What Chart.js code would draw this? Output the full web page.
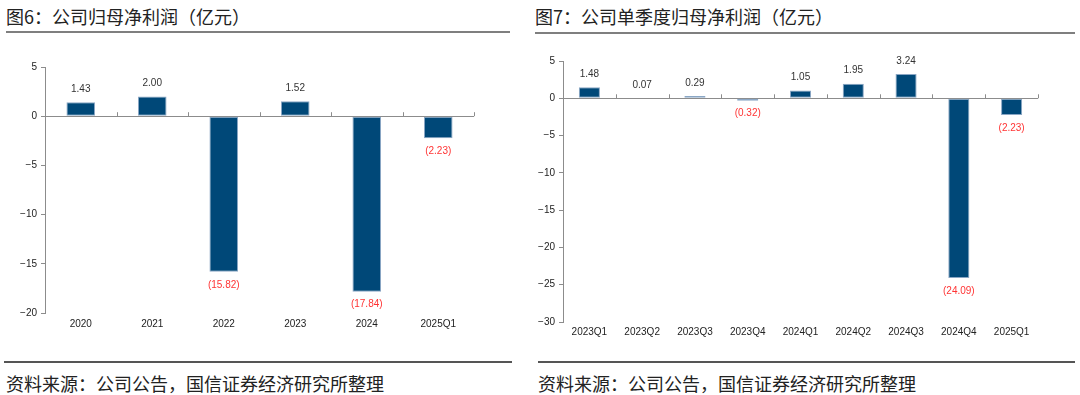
<!DOCTYPE html>
<html>
<head>
<meta charset="utf-8">
<script src="https://cdn.jsdelivr.net/npm/chart.js@4.4.0/dist/chart.umd.min.js"></script>
<style>
    body{margin:0;background:#fff;width:1080px;height:395px;position:relative;overflow:hidden;font-family:"Noto Sans CJK SC","Noto Sans",sans-serif;}
    .title{position:absolute;top:3px;font-size:18px;color:#222;white-space:nowrap;}
    .rule{position:absolute;height:2px;background:#7f7f7f;}
    .foot{position:absolute;top:370px;font-size:18px;color:#222;white-space:nowrap;}
    .box{position:absolute;}
</style>
</head>
<body>

<div class="title" style="left:6px;">图6：公司归母净利润（亿元）</div>
<div class="rule" style="left:6px;width:504px;top:31px;"></div>
<div class="title" style="left:535px;">图7：公司单季度归母净利润（亿元）</div>
<div class="rule" style="left:535px;width:540px;top:32px;"></div>

<div class="box" style="left:0;top:40px;width:500px;height:300px;"><canvas id="annualChart"></canvas></div>
<div class="box" style="left:520px;top:40px;width:560px;height:305px;"><canvas id="quarterChart"></canvas></div>

<div class="rule" style="left:4px;width:508px;top:361px;background:#555;"></div>
<div class="rule" style="left:538px;width:537px;top:361px;background:#555;"></div>
<div class="foot" style="left:6px;">资料来源：公司公告，国信证券经济研究所整理</div>
<div class="foot" style="left:538px;">资料来源：公司公告，国信证券经济研究所整理</div>

<script>
// ===== DATA =====
const annualLabels = ["2020","2021","2022","2023","2024","2025Q1"];
const annualValues = [1.43, 2.00, -15.82, 1.52, -17.84, -2.23];
const annualTicks = [5, 0, -5, -10, -15, -20];

const quarterLabels = ["2023Q1","2023Q2","2023Q3","2023Q4","2024Q1","2024Q2","2024Q3","2024Q4","2025Q1"];
const quarterValues = [1.48, 0.07, 0.29, -0.32, 1.05, 1.95, 3.24, -24.09, -2.23];
const quarterTicks = [5, 0, -5, -10, -15, -20, -25, -30];

const BAR = "#004878";
const AXIS = "#8c8c8c";

// value labels above / below each bar
const valueLabels = {
    id:"valueLabels",
    afterDatasetsDraw(chart){
        const ctx = chart.ctx;
        const meta = chart.getDatasetMeta(0);
        const data = chart.data.datasets[0].data;
        ctx.save();
        ctx.font = "10px 'Liberation Sans', Arial, sans-serif";
        ctx.textAlign = "center";
        ctx.textBaseline = "middle";
        meta.data.forEach((bar,i)=>{
            const v = data[i];
            if(v >= 0){
                ctx.fillStyle = "#333";
                ctx.fillText(v.toFixed(2), bar.x, bar.y - 13);
            }else{
                ctx.fillStyle = "#ff3333";
                ctx.fillText("(" + Math.abs(v).toFixed(2) + ")", bar.x, bar.y + 13);
            }
        });
        ctx.restore();
    }
};

// category tick marks on the zero line
const zeroTicks = {
    id:"zeroTicks",
    afterDraw(chart){
        const ctx = chart.ctx;
        const x = chart.scales.x;
        const y0 = chart.scales.y.getPixelForValue(0);
        const n = chart.data.labels.length;
        const step = (x.right - x.left) / n;
        ctx.save();
        ctx.strokeStyle = AXIS;
        ctx.lineWidth = 1;
        ctx.beginPath();
        for(let i = 1; i <= n; i++){
            const px = Math.round(x.left + step * i) + 0.5;
            ctx.moveTo(px, y0 - 4);
            ctx.lineTo(px, y0);
        }
        ctx.stroke();
        ctx.restore();
    }
};

function makeChart(id, labels, values, ticks, pad, yWidth, xHeight, tickPad){
    return new Chart(document.getElementById(id),{
        type:"bar",
        data:{
            labels:labels,
            datasets:[{
                data:values,
                backgroundColor:BAR,
                borderColor:"#8aa6c4",
                borderWidth:1,
                borderSkipped:false,
                categoryPercentage:1,
                barPercentage:0.4
            }]
        },
        options:{
            responsive:true,
            maintainAspectRatio:false,
            animation:false,
            layout:{padding:pad},
            plugins:{legend:{display:false},tooltip:{enabled:false}},
            scales:{
                x:{
                    grid:{display:false,drawTicks:false},
                    border:{display:false},
                    ticks:{color:"#222",font:{size:10,family:"'Liberation Sans', Arial, sans-serif"},padding:tickPad,maxRotation:0,autoSkip:false},
                    afterFit(s){ s.height = xHeight; }
                },
                y:{
                    min:ticks[ticks.length-1],
                    max:ticks[0],
                    afterBuildTicks(s){ s.ticks = ticks.map(v=>({value:v})); },
                    grid:{
                        color:c=>c.tick && c.tick.value === 0 ? AXIS : "rgba(0,0,0,0)",
                        tickColor:AXIS,
                        tickLength:4,
                        lineWidth:1
                    },
                    border:{display:true,color:AXIS,width:1},
                    ticks:{
                        color:"#222",
                        font:{size:10,family:"'Liberation Sans', Arial, sans-serif"},
                        padding:4,
                        callback:v=>v < 0 ? "\u2212" + Math.abs(v) : String(v)
                    },
                    afterFit(s){ s.width = yWidth; }
                }
            }
        },
        plugins:[valueLabels, zeroTicks]
    });
}

makeChart("annualChart", annualLabels, annualValues, annualTicks,
    {top:27,right:26,left:0,bottom:0}, 45, 27, 5);
makeChart("quarterChart", quarterLabels, quarterValues, quarterTicks,
    {top:21,right:42,left:0,bottom:0}, 43, 23, 4);
</script>
</body>
</html>
